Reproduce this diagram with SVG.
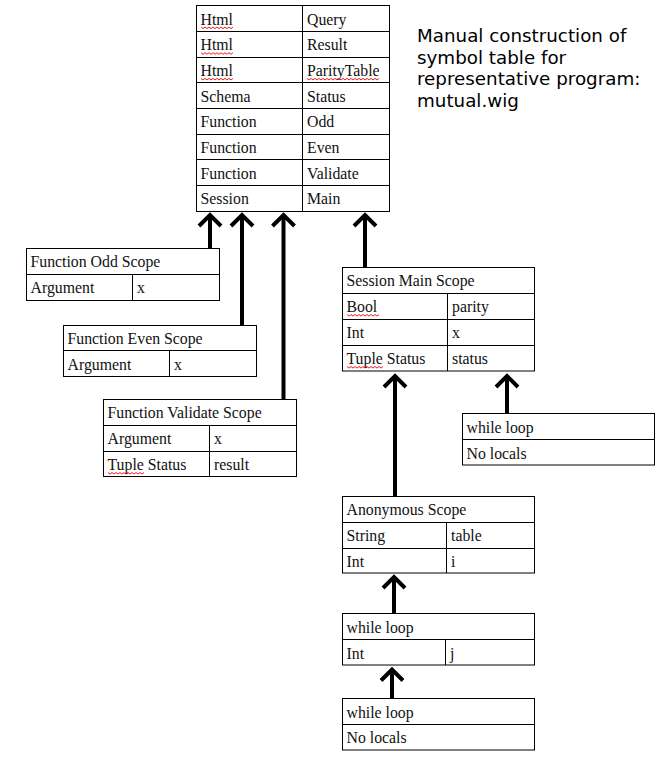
<svg xmlns="http://www.w3.org/2000/svg" width="659" height="757" viewBox="0 0 659 757">
<style>
.box{fill:#fff;stroke:#000;stroke-width:1}
.ln{stroke:#000;stroke-width:1;fill:none}
.t{font-family:"Liberation Serif","Times New Roman",serif;font-size:15.8px;fill:#111}
.title{font-family:"DejaVu Sans",sans-serif;font-size:18.3px;fill:#000}
.arr{stroke:#000;stroke-width:4;fill:none;marker-end:url(#head)}
.spell{stroke:#e00;stroke-width:0.9;fill:none}
</style>
<defs>
<marker id="head" markerUnits="userSpaceOnUse" orient="auto" refX="0" refY="0" markerWidth="20" markerHeight="30" overflow="visible">
<path d="M-11,-11 L0,0 L-11,11" stroke="#000" stroke-width="4" fill="none" stroke-linejoin="miter"/>
</marker>
</defs>
<rect width="659" height="757" fill="#fff"/>

<g id="title">
<text class="title" x="417" y="42">Manual construction of</text>
<text class="title" x="417" y="63.5">symbol table for</text>
<text class="title" x="417" y="85">representative program:</text>
<text class="title" x="417" y="106.5">mutual.wig</text>
</g>

<g id="global-table">
<rect class="box" x="196.5" y="5.5" width="193" height="206"/>
<path class="ln" d="M196.5,31.5H389.5M196.5,57.5H389.5M196.5,82.5H389.5M196.5,108.5H389.5M196.5,134.5H389.5M196.5,159.5H389.5M196.5,185.5H389.5M302.5,5.5V211.5"/>
<text class="t" x="200.5" y="24.5">Html</text><text class="t" x="307" y="24.5">Query</text>
<text class="t" x="200.5" y="50.2">Html</text><text class="t" x="307" y="50.2">Result</text>
<text class="t" x="200.5" y="75.9">Html</text><text class="t" x="307" y="75.9">ParityTable</text>
<text class="t" x="200.5" y="101.6">Schema</text><text class="t" x="307" y="101.6">Status</text>
<text class="t" x="200.5" y="127.3">Function</text><text class="t" x="307" y="127.3">Odd</text>
<text class="t" x="200.5" y="153">Function</text><text class="t" x="307" y="153">Even</text>
<text class="t" x="200.5" y="178.7">Function</text><text class="t" x="307" y="178.7">Validate</text>
<text class="t" x="200.5" y="204.4">Session</text><text class="t" x="307" y="204.4">Main</text>
<path class="spell" d="M201,27 l2,1.6 l2,-1.6 l2,1.6 l2,-1.6 l2,1.6 l2,-1.6 l2,1.6 l2,-1.6 l2,1.6 l2,-1.6 l2,1.6 l2,-1.6 l2,1.6 l2,-1.6 l2,1.6 l2,-1.6"/>
<path class="spell" d="M201,52.7 l2,1.6 l2,-1.6 l2,1.6 l2,-1.6 l2,1.6 l2,-1.6 l2,1.6 l2,-1.6 l2,1.6 l2,-1.6 l2,1.6 l2,-1.6 l2,1.6 l2,-1.6 l2,1.6 l2,-1.6"/>
<path class="spell" d="M201,78.4 l2,1.6 l2,-1.6 l2,1.6 l2,-1.6 l2,1.6 l2,-1.6 l2,1.6 l2,-1.6 l2,1.6 l2,-1.6 l2,1.6 l2,-1.6 l2,1.6 l2,-1.6 l2,1.6 l2,-1.6"/>
<path class="spell" d="M307,78.4 l2,1.6 l2,-1.6 l2,1.6 l2,-1.6 l2,1.6 l2,-1.6 l2,1.6 l2,-1.6 l2,1.6 l2,-1.6 l2,1.6 l2,-1.6 l2,1.6 l2,-1.6 l2,1.6 l2,-1.6 l2,1.6 l2,-1.6 l2,1.6 l2,-1.6 l2,1.6 l2,-1.6 l2,1.6 l2,-1.6 l2,1.6 l2,-1.6 l2,1.6 l2,-1.6 l2,1.6 l2,-1.6 l2,1.6 l2,-1.6 l2,1.6 l2,-1.6 l2,1.6 l2,-1.6"/>
</g>

<g id="odd-scope">
<rect class="box" x="26.5" y="248.5" width="193" height="52"/>
<path class="ln" d="M26.5,274.5H219.5M132.5,274.5V300.5"/>
<text class="t" x="30.5" y="267">Function Odd Scope</text>
<text class="t" x="30.5" y="293">Argument</text><text class="t" x="137" y="293">x</text>
</g>

<g id="even-scope">
<rect class="box" x="63.5" y="325.5" width="193" height="51"/>
<path class="ln" d="M63.5,350.5H256.5M169.5,350.5V376.5"/>
<text class="t" x="67.5" y="344">Function Even Scope</text>
<text class="t" x="67.5" y="369.5">Argument</text><text class="t" x="174" y="369.5">x</text>
</g>

<g id="validate-scope">
<rect class="box" x="103.5" y="399.5" width="193" height="77"/>
<path class="ln" d="M103.5,425.5H296.5M103.5,451.5H296.5M209.5,425.5V476.5"/>
<text class="t" x="107.5" y="418">Function Validate Scope</text>
<text class="t" x="107.5" y="444">Argument</text><text class="t" x="214" y="444">x</text>
<text class="t" x="107.5" y="470">Tuple Status</text><text class="t" x="214" y="470">result</text>
<path class="spell" d="M108,472.5 l2,1.6 l2,-1.6 l2,1.6 l2,-1.6 l2,1.6 l2,-1.6 l2,1.6 l2,-1.6 l2,1.6 l2,-1.6 l2,1.6 l2,-1.6 l2,1.6 l2,-1.6 l2,1.6 l2,-1.6 l2,1.6 l2,-1.6"/>
</g>

<g id="session-main-scope">
<rect class="box" x="342.5" y="267.5" width="192" height="103.5"/>
<path class="ln" d="M342.5,293.5H534.5M342.5,319.5H534.5M342.5,345.5H534.5M447.5,293.5V371"/>
<text class="t" x="346.5" y="286">Session Main Scope</text>
<text class="t" x="346.5" y="312">Bool</text><text class="t" x="452" y="312">parity</text>
<text class="t" x="346.5" y="338">Int</text><text class="t" x="452" y="338">x</text>
<text class="t" x="346.5" y="364">Tuple Status</text><text class="t" x="452" y="364">status</text>
<path class="spell" d="M347,314.5 l2,1.6 l2,-1.6 l2,1.6 l2,-1.6 l2,1.6 l2,-1.6 l2,1.6 l2,-1.6 l2,1.6 l2,-1.6 l2,1.6 l2,-1.6 l2,1.6 l2,-1.6 l2,1.6 l2,-1.6"/>
<path class="spell" d="M347,366.5 l2,1.6 l2,-1.6 l2,1.6 l2,-1.6 l2,1.6 l2,-1.6 l2,1.6 l2,-1.6 l2,1.6 l2,-1.6 l2,1.6 l2,-1.6 l2,1.6 l2,-1.6 l2,1.6 l2,-1.6 l2,1.6 l2,-1.6"/>
</g>

<g id="while-loop-main">
<rect class="box" x="462.5" y="413.5" width="192" height="51.5"/>
<path class="ln" d="M462.5,439.5H654.5"/>
<text class="t" x="466.5" y="432.5">while loop</text>
<text class="t" x="466.5" y="458.5">No locals</text>
</g>

<g id="anonymous-scope">
<rect class="box" x="342.5" y="496.5" width="192" height="76.5"/>
<path class="ln" d="M342.5,522.5H534.5M342.5,548.5H534.5M446.5,522.5V573"/>
<text class="t" x="346.5" y="515">Anonymous Scope</text>
<text class="t" x="346.5" y="541">String</text><text class="t" x="451" y="541">table</text>
<text class="t" x="346.5" y="567">Int</text><text class="t" x="451" y="567">i</text>
</g>

<g id="while-loop-j">
<rect class="box" x="342.5" y="613.5" width="192" height="51.5"/>
<path class="ln" d="M342.5,639.5H534.5M445.5,639.5V665"/>
<text class="t" x="346.5" y="632.5">while loop</text>
<text class="t" x="346.5" y="658.5">Int</text><text class="t" x="450" y="658.5">j</text>
</g>

<g id="while-loop-inner">
<rect class="box" x="342.5" y="698.5" width="192" height="51.5"/>
<path class="ln" d="M342.5,724.5H534.5"/>
<text class="t" x="346.5" y="717.5">while loop</text>
<text class="t" x="346.5" y="743">No locals</text>
</g>

<g id="connectors">
<path class="arr" d="M210,248.5V215"/>
<path class="arr" d="M242,325.5V215"/>
<path class="arr" d="M283.5,399.5V215"/>
<path class="arr" d="M365,267.5V215"/>
<path class="arr" d="M395,496.5V376"/>
<path class="arr" d="M507,413.5V376"/>
<path class="arr" d="M394,613.5V577"/>
<path class="arr" d="M392,698.5V669.5"/>
</g>
</svg>
